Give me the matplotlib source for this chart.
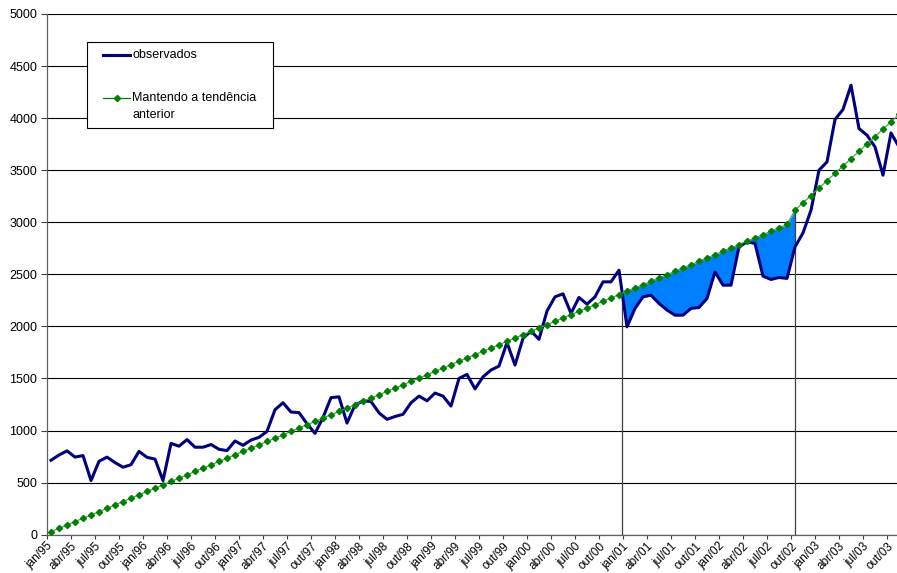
import numpy as np
import matplotlib.pyplot as plt
from matplotlib.patches import Rectangle
from matplotlib.lines import Line2D

plt.rcParams['font.family'] = ['Liberation Sans', 'DejaVu Sans']

# série mensal observada, jan/95 em diante
observados = [
    715, 765, 805, 745, 760, 520, 705, 745, 693, 648, 672, 800,
    743, 726, 520, 877, 850, 913, 840, 840, 866, 820, 808, 900,
    858, 909, 935, 992, 1200, 1267, 1178, 1172, 1066, 973, 1125, 1316,
    1324, 1072, 1245, 1283, 1280, 1170, 1108, 1135, 1156, 1267, 1331, 1286,
    1360, 1331, 1235, 1501, 1539, 1400, 1516, 1581, 1619, 1845, 1629, 1885,
    1956, 1876, 2148, 2284, 2313, 2125, 2278, 2214, 2284, 2428, 2428, 2540,
    1996, 2173, 2284, 2300, 2221, 2157, 2108, 2108, 2173, 2182, 2269, 2524,
    2396, 2396, 2764, 2812, 2797, 2483, 2451, 2470, 2461, 2764, 2898, 3116,
    3500, 3580, 3987, 4083, 4316, 3900, 3836, 3724, 3452, 3858, 3724,
]

# linha de tendência
tendencia = [
    30, 62, 94, 126, 158, 190, 222, 254, 286, 318, 351, 383,
    415, 447, 479, 511, 543, 575, 607, 639, 671, 703, 735, 767,
    799, 831, 863, 895, 927, 959, 992, 1024, 1056, 1088, 1120, 1152,
    1184, 1216, 1248, 1280, 1312, 1344, 1376, 1408, 1440, 1472, 1504, 1536,
    1568, 1600, 1633, 1665, 1697, 1729, 1761, 1793, 1825, 1857, 1889, 1921,
    1953, 1985, 2017, 2049, 2081, 2113, 2145, 2177, 2209, 2241, 2274, 2306,
    2338, 2370, 2402, 2434, 2466, 2498, 2530, 2562, 2594, 2626, 2658, 2690,
    2722, 2754, 2786, 2818, 2850, 2882, 2915, 2947, 2979, 3116, 3187, 3257,
    3328, 3399, 3470, 3540, 3611, 3682, 3752, 3823, 3894, 3964, 4035,
]

meses = ['jan', 'abr', 'jul', 'out']
anos = ['95', '96', '97', '98', '99', '00', '01', '02', '03']
rotulos = [f'{m}/{a}' for a in anos for m in meses]

# trecho sombreado: da queda em jan/01 até a mudança da tendência
ini, fim = 71, 93

x = np.arange(len(observados))
obs = np.array(observados, dtype=float)
tend = np.array(tendencia, dtype=float)

W, H = 897, 573
fig = plt.figure(figsize=(W / 100, H / 100), dpi=100)
ax = fig.add_axes([47 / W, 1 - 534.7 / H, 1 - 47 / W, (534.7 - 14) / H])

seg = slice(ini, fim + 1)
ax.fill_between(x[seg], obs[seg], tend[seg], where=obs[seg] < tend[seg],
                interpolate=True, color='#0080ff', lw=0, zorder=2)

# linhas verticais no início e no fim da área
d = obs - tend
xc = ini + d[ini] / (d[ini] - d[ini + 1])
yc = tend[ini] + (xc - ini) * (tend[ini + 1] - tend[ini])
ax.vlines([xc, fim], 0, [yc, tend[fim]], color='#404040', lw=0.9, zorder=2)

ax.plot(x, obs, color='#000080', lw=2.2, zorder=3)
ax.plot(x, tend, color='#4aa84a', lw=0.9, marker='D', ms=3.1,
        mfc='#008000', mec='#008000', zorder=4)

ax.set_xlim(-0.5, 105.75)
ax.set_ylim(0, 5000)
ax.set_yticks(np.arange(0, 5001, 500))
ax.set_xticks(np.arange(len(rotulos)) * 3 - 0.5)
ax.set_xticklabels(rotulos, rotation=45, ha='right', rotation_mode='anchor',
                   fontsize=8.5)
ax.tick_params(axis='x', length=3, width=0.8, pad=1, color='#404040')
ax.tick_params(axis='y', length=4, width=0.8, pad=3, labelsize=9,
               color='#404040')
ax.yaxis.grid(True, color='black', lw=0.8)
ax.set_axisbelow(True)
for lado in ['top', 'right']:
    ax.spines[lado].set_visible(False)
for lado in ['left', 'bottom']:
    ax.spines[lado].set_color('#606060')
    ax.spines[lado].set_linewidth(0.9)


# legenda desenhada em coordenadas de pixel
def px(xp, yp):
    return xp / W, 1 - yp / H


caixa = Rectangle(px(87, 128), 186 / W, 86 / H, transform=fig.transFigure,
                  facecolor='white', edgecolor='black', lw=0.8, zorder=10)
fig.add_artist(caixa)
(x0, y0), (x1, _) = px(103, 55), px(130, 55)
fig.add_artist(Line2D([x0, x1], [y0, y0], transform=fig.transFigure,
                      color='#000080', lw=2.2, zorder=11))
fig.text(*px(132, 55), 'observados', va='center', ha='left', fontsize=9,
         zorder=11)
(x0, y0), (x1, _) = px(103, 98), px(130, 98)
fig.add_artist(Line2D([x0, x1], [y0, y0], transform=fig.transFigure,
                      color='#008000', lw=0.9, zorder=11))
fig.add_artist(Line2D([(x0 + x1) / 2], [y0], transform=fig.transFigure,
                      marker='D', ms=3.1, color='#008000', zorder=11))
fig.text(*px(132, 98), 'Mantendo a tendência', va='center', ha='left',
         fontsize=9, zorder=11)
fig.text(*px(132, 115), 'anterior', va='center', ha='left', fontsize=9,
         zorder=11)

fig.savefig('out.png', dpi=100)
